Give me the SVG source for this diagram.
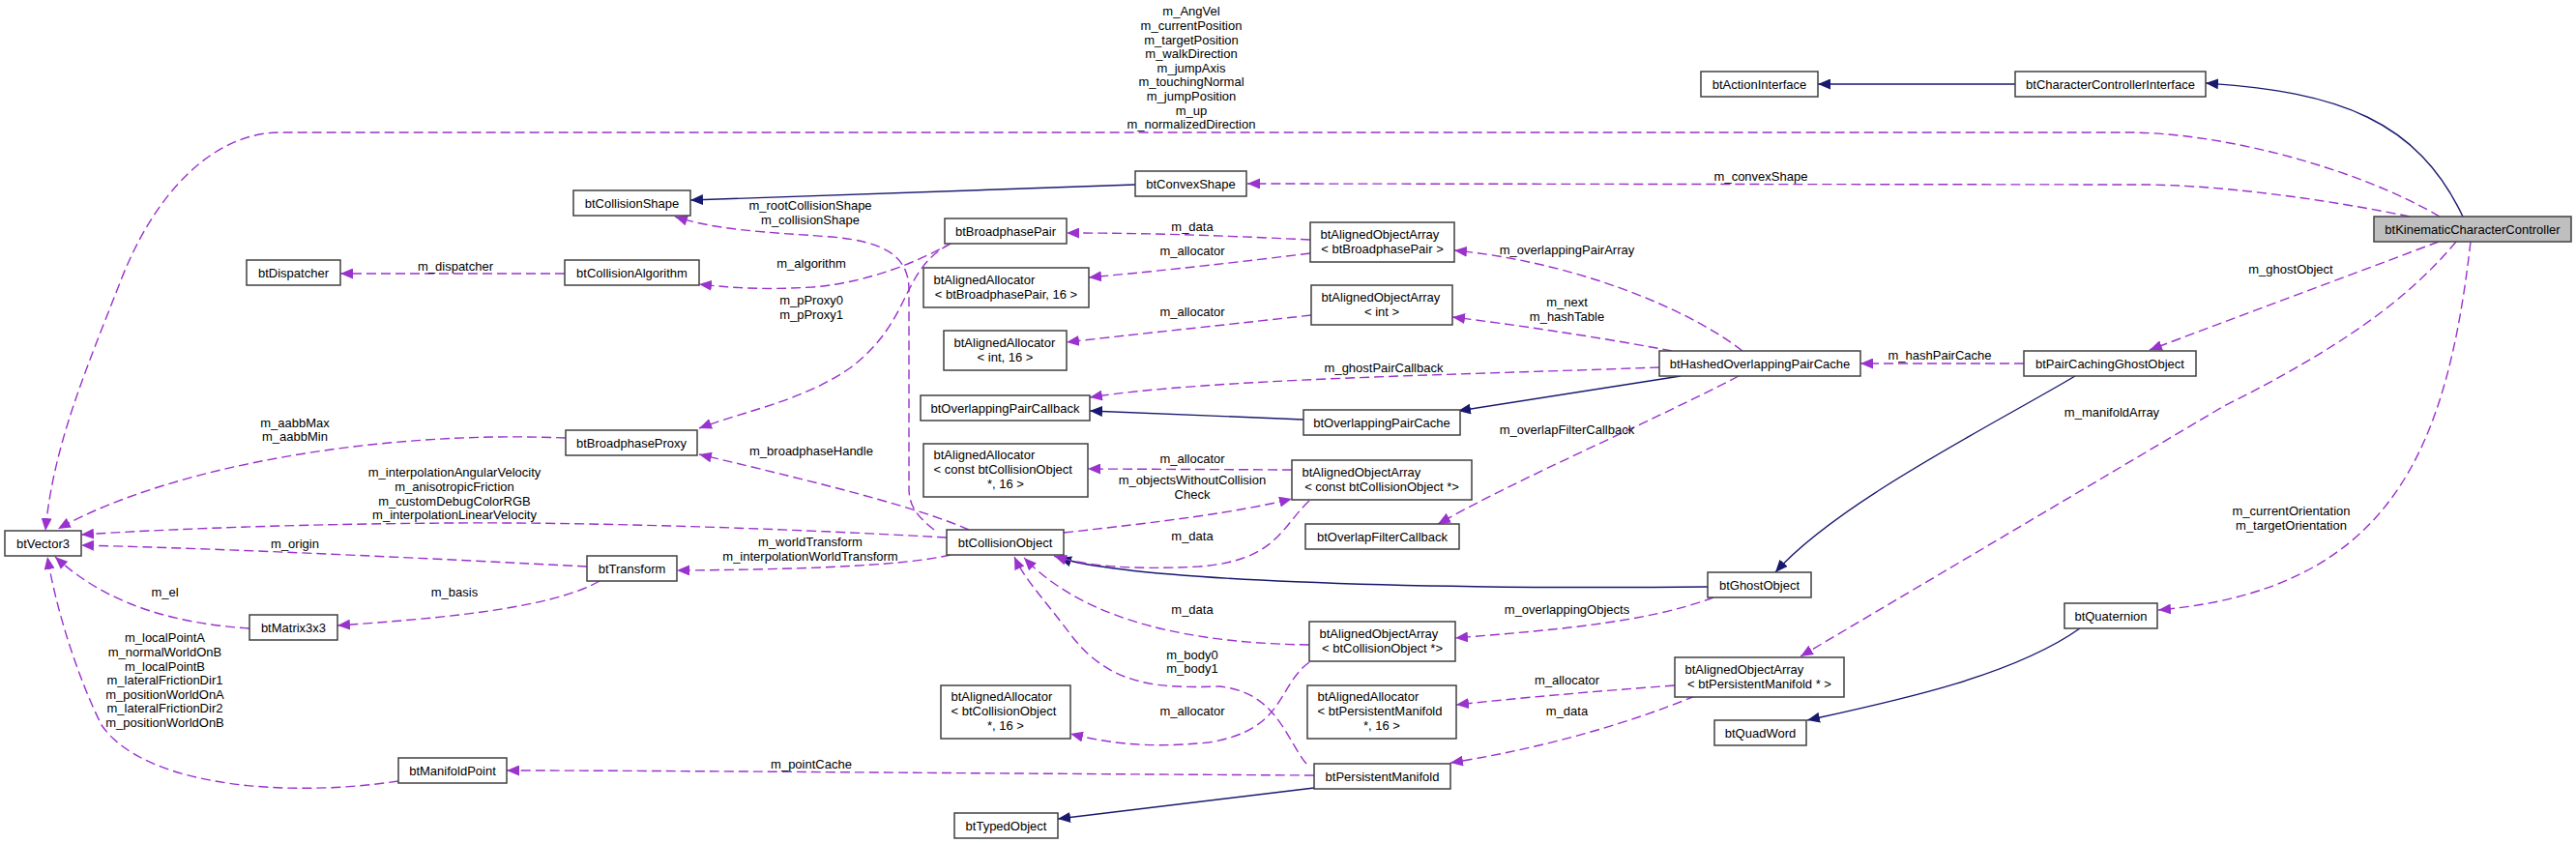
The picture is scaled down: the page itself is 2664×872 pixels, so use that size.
<svg xmlns="http://www.w3.org/2000/svg" width="2664" height="872" viewBox="0 0 2664 872">
<style>
text{font-family:"Liberation Sans",Arial,Helvetica,sans-serif;font-size:13px;fill:#000}
.node rect{fill:#fff;stroke:#404040;stroke-width:1.5}
.node rect.main{fill:#bfbfbf}
.m{text-anchor:middle}
.s{text-anchor:start}
.inh{fill:none;stroke:#191970;stroke-width:1.4;marker-end:url(#ai)}
.use{fill:none;stroke:#9a32cd;stroke-width:1.4;stroke-dasharray:10,5;marker-end:url(#au)}
.lbl{text-anchor:middle}
</style>
<defs>
<marker id="ai" markerUnits="userSpaceOnUse" markerWidth="14" markerHeight="11" refX="13" refY="5.5" orient="auto"><path d="M0,0 L13,5.5 L0,11 z" fill="#191970"/></marker>
<marker id="au" markerUnits="userSpaceOnUse" markerWidth="14" markerHeight="11" refX="13" refY="5.5" orient="auto"><path d="M0,0 L13,5.5 L0,11 z" fill="#9a32cd"/></marker>
</defs>
<rect width="2664" height="872" fill="#fff"/>
<g id="connectors">
<path class="inh" d="M2084,87 L1880,87"/>
<path class="inh" d="M2547,224 C2500,125 2420,95 2281,86"/>
<path class="inh" d="M1174,191 L714,207"/>
<path class="inh" d="M1738,389 L1508,425"/>
<path class="inh" d="M1348,434 L1127,425"/>
<path class="inh" d="M2146,389 C2060,440 1900,520 1836,592"/>
<path class="inh" d="M1766,607 C1450,610 1170,600 1095,577"/>
<path class="inh" d="M1359,815 L1094,847"/>
<path class="inh" d="M2151,650 C2080,700 1960,725 1869,745"/>

<g><path class="use" d="M2523,224 C2440,175 2300,137 2200,137 L290,137 C220,137 160,200 125,290 C90,380 55,460 47,549"/>
<text class="lbl" x="1232" y="16.3">m_AngVel</text>
<text class="lbl" x="1232" y="30.9">m_currentPosition</text>
<text class="lbl" x="1232" y="45.5">m_targetPosition</text>
<text class="lbl" x="1232" y="60.1">m_walkDirection</text>
<text class="lbl" x="1232" y="74.7">m_jumpAxis</text>
<text class="lbl" x="1232" y="89.3">m_touchingNormal</text>
<text class="lbl" x="1232" y="103.9">m_jumpPosition</text>
<text class="lbl" x="1232" y="118.5">m_up</text>
<text class="lbl" x="1232" y="133.1">m_normalizedDirection</text></g>
<g><path class="use" d="M2492,224 C2400,205 2290,191 2215,191 L1290,190"/>
<text class="lbl" x="1821" y="187.3">m_convexShape</text></g>
<g><path class="use" d="M2522,250 L2223,362"/>
<text class="lbl" x="2369" y="282.9">m_ghostObject</text></g>
<g><path class="use" d="M2540,250 C2490,310 2420,360 2300,420 L1862,679"/>
<text class="lbl" x="2184" y="431.3">m_manifoldArray</text></g>
<g><path class="use" d="M2555,250 C2530,470 2470,610 2232,631"/>
<text class="lbl" x="2369.5" y="533.3">m_currentOrientation</text>
<text class="lbl" x="2369.5" y="547.9">m_targetOrientation</text></g>
<g><path class="use" d="M2093,376 L1924,376"/>
<text class="lbl" x="2006" y="372.3">m_hashPairCache</text></g>
<g><path class="use" d="M1772,618 C1700,645 1600,652 1505,660"/>
<text class="lbl" x="1620.5" y="635.3">m_overlappingObjects</text></g>
<g><path class="use" d="M1802,363 C1740,315 1620,270 1504,259"/>
<text class="lbl" x="1620.5" y="263.3">m_overlappingPairArray</text></g>
<g><path class="use" d="M1729,363 C1650,348 1560,335 1502,328"/>
<text class="lbl" x="1620.5" y="317.3">m_next</text>
<text class="lbl" x="1620.5" y="331.9">m_hashTable</text></g>
<g><path class="use" d="M1716,380 C1500,388 1250,392 1127,411"/>
<text class="lbl" x="1431" y="384.9">m_ghostPairCallback</text></g>
<g><path class="use" d="M1798,389 C1700,440 1580,490 1487,542"/>
<text class="lbl" x="1620.5" y="449.3">m_overlapFilterCallback</text></g>
<g><path class="use" d="M1355,248 C1250,243 1180,241 1103,241"/>
<text class="lbl" x="1233" y="238.9">m_data</text></g>
<g><path class="use" d="M1355,262 C1250,275 1180,282 1126,287"/>
<text class="lbl" x="1233" y="263.9">m_allocator</text></g>
<g><path class="use" d="M1356,326 C1250,338 1180,345 1103,354"/>
<text class="lbl" x="1233" y="327.3">m_allocator</text></g>
<g><path class="use" d="M985,251 C950,270 900,292 840,297 C790,300 760,298 723,294"/>
<text class="lbl" x="839" y="277.3">m_algorithm</text></g>
<g><path class="use" d="M983,252 C930,280 945,330 880,380 C830,415 770,425 723,443"/>
<text class="lbl" x="839" y="315.3">m_pProxy0</text>
<text class="lbl" x="839" y="329.9">m_pProxy1</text></g>
<g><path class="use" d="M966,548 C950,535 940,525 940,505 L940,300 C940,265 915,250 860,245 C790,240 740,238 698,224"/>
<text class="lbl" x="838" y="217.3">m_rootCollisionShape</text>
<text class="lbl" x="838" y="231.9">m_collisionShape</text></g>
<g><path class="use" d="M1002,548 C950,525 850,500 723,470"/>
<text class="lbl" x="839" y="470.9">m_broadphaseHandle</text></g>
<g><path class="use" d="M979,556 C800,546 600,540 470,541 C300,542 160,548 84,553"/>
<text class="lbl" x="470" y="493.3">m_interpolationAngularVelocity</text>
<text class="lbl" x="470" y="507.9">m_anisotropicFriction</text>
<text class="lbl" x="470" y="522.5">m_customDebugColorRGB</text>
<text class="lbl" x="470" y="537.1">m_interpolationLinearVelocity</text></g>
<g><path class="use" d="M607,586 C450,578 250,568 84,564"/>
<text class="lbl" x="305" y="567.3">m_origin</text></g>
<g><path class="use" d="M983,574 C940,584 850,589 700,590"/>
<text class="lbl" x="838" y="564.9">m_worldTransform</text>
<text class="lbl" x="838" y="579.5">m_interpolationWorldTransform</text></g>
<g><path class="use" d="M620,601 C570,630 450,640 349,647"/>
<text class="lbl" x="470" y="616.9">m_basis</text></g>
<g><path class="use" d="M258,650 C180,645 110,625 57,576"/>
<text class="lbl" x="170.5" y="616.9">m_el</text></g>
<g><path class="use" d="M412,808 C300,825 150,815 105,750 C80,700 58,630 49,576"/>
<text class="lbl" x="170.5" y="664.3">m_localPointA</text>
<text class="lbl" x="170.5" y="678.9">m_normalWorldOnB</text>
<text class="lbl" x="170.5" y="693.5">m_localPointB</text>
<text class="lbl" x="170.5" y="708.1">m_lateralFrictionDir1</text>
<text class="lbl" x="170.5" y="722.7">m_positionWorldOnA</text>
<text class="lbl" x="170.5" y="737.3">m_lateralFrictionDir2</text>
<text class="lbl" x="170.5" y="751.9">m_positionWorldOnB</text></g>
<g><path class="use" d="M585,453 C400,445 180,480 60,547"/>
<text class="lbl" x="305" y="441.6">m_aabbMax</text>
<text class="lbl" x="305" y="456.2">m_aabbMin</text></g>
<g><path class="use" d="M1359,802 C1000,800 700,797 524,797"/>
<text class="lbl" x="839" y="795.3">m_pointCache</text></g>
<g><path class="use" d="M1336,486 L1125,485"/>
<text class="lbl" x="1233" y="479.3">m_allocator</text></g>
<g><path class="use" d="M1100,551 C1200,540 1280,530 1336,516"/>
<text class="lbl" x="1233" y="500.9">m_objectsWithoutCollision</text>
<text class="lbl" x="1233" y="515.5">Check</text></g>
<g><path class="use" d="M1354,518 C1325,545 1320,580 1240,586 C1170,590 1120,585 1090,575"/>
<text class="lbl" x="1233" y="559.3">m_data</text></g>
<g><path class="use" d="M1354,667 C1200,665 1110,630 1059,577"/>
<text class="lbl" x="1233" y="635.3">m_data</text></g>
<g><path class="use" d="M1354,685 C1320,710 1330,755 1250,768 C1180,775 1140,767 1107,759"/>
<text class="lbl" x="1233" y="739.9">m_allocator</text></g>
<g><path class="use" d="M1351,790 C1330,765 1320,715 1260,710 C1200,712 1150,710 1110,660 C1080,620 1060,600 1049,576"/>
<text class="lbl" x="1233" y="681.6">m_body0</text>
<text class="lbl" x="1233" y="696.2">m_body1</text></g>
<g><path class="use" d="M1732,709 C1650,715 1570,722 1506,729"/>
<text class="lbl" x="1620.5" y="708.3">m_allocator</text></g>
<g><path class="use" d="M1753,720 C1680,750 1590,775 1500,789"/>
<text class="lbl" x="1620.5" y="739.9">m_data</text></g>
<g><path class="use" d="M584,283 L352,283"/>
<text class="lbl" x="471" y="279.6">m_dispatcher</text></g>
</g>

<g id="n_KCC" class="node"><rect class="main" x="2455" y="224" width="204" height="26"/><text class="m" x="2557" y="241.6">btKinematicCharacterController</text></g>
<g id="n_CCI" class="node"><rect x="2084" y="74" width="197" height="26"/><text class="m" x="2182.5" y="91.6">btCharacterControllerInterface</text></g>
<g id="n_ActionInterface" class="node"><rect x="1759" y="74" width="121" height="26"/><text class="m" x="1819.5" y="91.6">btActionInterface</text></g>
<g id="n_ConvexShape" class="node"><rect x="1174" y="177" width="115" height="26"/><text class="m" x="1231.5" y="194.6">btConvexShape</text></g>
<g id="n_CollisionShape" class="node"><rect x="593" y="197" width="121" height="26"/><text class="m" x="653.5" y="214.6">btCollisionShape</text></g>
<g id="n_BroadphasePair" class="node"><rect x="977" y="226" width="126" height="26"/><text class="m" x="1040" y="243.6">btBroadphasePair</text></g>
<g id="n_BPArray" class="node"><rect x="1355" y="230" width="149" height="41"/><text class="s" x="1365.5" y="247.3">btAlignedObjectArray</text><text class="m" x="1429.5" y="261.9">&lt; btBroadphasePair &gt;</text></g>
<g id="n_BPAlloc" class="node"><rect x="955" y="277" width="171" height="41"/><text class="s" x="965.5" y="294.3">btAlignedAllocator</text><text class="m" x="1040.5" y="308.9">&lt; btBroadphasePair, 16 &gt;</text></g>
<g id="n_IntArray" class="node"><rect x="1356" y="295" width="146" height="41"/><text class="s" x="1366.5" y="312.3">btAlignedObjectArray</text><text class="m" x="1429" y="326.9">&lt; int &gt;</text></g>
<g id="n_IntAlloc" class="node"><rect x="976" y="342" width="127" height="41"/><text class="s" x="986.5" y="359.3">btAlignedAllocator</text><text class="m" x="1039.5" y="373.9">&lt; int, 16 &gt;</text></g>
<g id="n_Dispatcher" class="node"><rect x="255" y="269" width="97" height="26"/><text class="m" x="303.5" y="286.6">btDispatcher</text></g>
<g id="n_CollisionAlgorithm" class="node"><rect x="584" y="269" width="139" height="26"/><text class="m" x="653.5" y="286.6">btCollisionAlgorithm</text></g>
<g id="n_HOPC" class="node"><rect x="1716" y="363" width="208" height="26"/><text class="m" x="1820" y="380.6">btHashedOverlappingPairCache</text></g>
<g id="n_PCGO" class="node"><rect x="2093" y="363" width="178" height="26"/><text class="m" x="2182" y="380.6">btPairCachingGhostObject</text></g>
<g id="n_OPCallback" class="node"><rect x="952" y="409" width="175" height="26"/><text class="m" x="1039.5" y="426.6">btOverlappingPairCallback</text></g>
<g id="n_OPC" class="node"><rect x="1348" y="424" width="162" height="26"/><text class="m" x="1429" y="441.6">btOverlappingPairCache</text></g>
<g id="n_BroadphaseProxy" class="node"><rect x="585" y="445" width="136" height="26"/><text class="m" x="653" y="462.6">btBroadphaseProxy</text></g>
<g id="n_ConstCOAlloc" class="node"><rect x="955" y="459" width="170" height="55"/><text class="s" x="965.5" y="475.3">btAlignedAllocator</text><text class="s" x="965.5" y="489.9">&lt; const btCollisionObject</text><text class="m" x="1040" y="504.5">*, 16 &gt;</text></g>
<g id="n_ConstCOArray" class="node"><rect x="1336" y="476" width="186" height="41"/><text class="s" x="1346.5" y="493.3">btAlignedObjectArray</text><text class="m" x="1429" y="507.9">&lt; const btCollisionObject *&gt;</text></g>
<g id="n_OverlapFilterCallback" class="node"><rect x="1350" y="542" width="159" height="26"/><text class="m" x="1429.5" y="559.6">btOverlapFilterCallback</text></g>
<g id="n_CollisionObject" class="node"><rect x="979" y="548" width="121" height="26"/><text class="m" x="1039.5" y="565.6">btCollisionObject</text></g>
<g id="n_Vector3" class="node"><rect x="5" y="549" width="79" height="26"/><text class="m" x="44.5" y="566.6">btVector3</text></g>
<g id="n_Transform" class="node"><rect x="607" y="575" width="93" height="26"/><text class="m" x="653.5" y="592.6">btTransform</text></g>
<g id="n_GhostObject" class="node"><rect x="1766" y="592" width="107" height="26"/><text class="m" x="1819.5" y="609.6">btGhostObject</text></g>
<g id="n_Quaternion" class="node"><rect x="2135" y="624" width="96" height="26"/><text class="m" x="2183" y="641.6">btQuaternion</text></g>
<g id="n_Matrix3x3" class="node"><rect x="258" y="636" width="91" height="26"/><text class="m" x="303.5" y="653.6">btMatrix3x3</text></g>
<g id="n_COArray" class="node"><rect x="1354" y="643" width="151" height="41"/><text class="s" x="1364.5" y="660.3">btAlignedObjectArray</text><text class="m" x="1429.5" y="674.9">&lt; btCollisionObject *&gt;</text></g>
<g id="n_COAlloc" class="node"><rect x="973" y="709" width="134" height="55"/><text class="s" x="983.5" y="725.3">btAlignedAllocator</text><text class="s" x="983.5" y="739.9">&lt; btCollisionObject</text><text class="m" x="1040" y="754.5">*, 16 &gt;</text></g>
<g id="n_PMAlloc" class="node"><rect x="1352" y="709" width="154" height="55"/><text class="s" x="1362.5" y="725.3">btAlignedAllocator</text><text class="s" x="1362.5" y="739.9">&lt; btPersistentManifold</text><text class="m" x="1429" y="754.5">*, 16 &gt;</text></g>
<g id="n_PMArray" class="node"><rect x="1732" y="680" width="175" height="41"/><text class="s" x="1742.5" y="697.3">btAlignedObjectArray</text><text class="m" x="1819.5" y="711.9">&lt; btPersistentManifold * &gt;</text></g>
<g id="n_QuadWord" class="node"><rect x="1773" y="745" width="95" height="26"/><text class="m" x="1820.5" y="762.6">btQuadWord</text></g>
<g id="n_ManifoldPoint" class="node"><rect x="412" y="784" width="112" height="26"/><text class="m" x="468" y="801.6">btManifoldPoint</text></g>
<g id="n_PersistentManifold" class="node"><rect x="1359" y="790" width="141" height="26"/><text class="m" x="1429.5" y="807.6">btPersistentManifold</text></g>
<g id="n_TypedObject" class="node"><rect x="987" y="841" width="107" height="26"/><text class="m" x="1040.5" y="858.6">btTypedObject</text></g>
</svg>
